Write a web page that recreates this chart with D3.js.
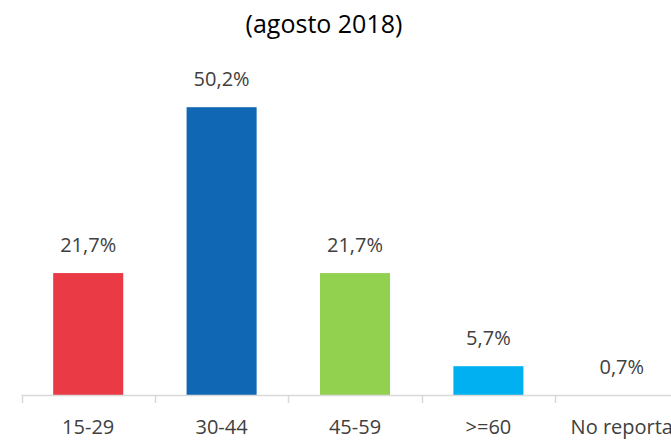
<!DOCTYPE html>
<html>
<head>
<meta charset="utf-8">
<script src="https://cdn.jsdelivr.net/npm/d3@7"></script>
<style>
  body { margin: 0; background: #fff; }
  svg { display: block; font-family: "Open Sans", "Noto Sans", sans-serif; }
</style>
</head>
<body>
<svg id="chart" width="671" height="440"></svg>
<script>
// ── Data ──
const categories = ["15-29", "30-44", "45-59", ">=60", "No reporta"];
const values = [21.7, 50.2, 21.7, 5.7, 0.7];
const labels = ["21,7%", "50,2%", "21,7%", "5,7%", "0,7%"];
const colors = ["#E93A45", "#1068B4", "#92D050", "#00B0F0", "#A5A5A5"];
const title = "(agosto 2018)";

const W = 671, H = 440;
const baseY = 395;

const svg = d3.select("#chart");

const x = d3
  .scaleBand()
  .domain(categories)
  .range([21.5, 21.5 + 133.4 * categories.length])
  .paddingInner(0.475)
  .paddingOuter(0.2375);

const y = d3.scaleLinear().domain([0.75, 55]).range([baseY, baseY - 5.82 * 54.25]);

// ── Title ──
svg.append("text")
  .attr("x", 324)
  .attr("y", 33)
  .attr("text-anchor", "middle")
  .attr("font-size", "25px")
  .attr("fill", "#000")
  .text(title);

// ── Bars ──
const g = svg.append("g");
categories.forEach((c, i) => {
  const top = Math.min(y(values[i]), baseY);
  g.append("rect")
    .attr("x", x(c))
    .attr("y", top)
    .attr("width", x.bandwidth())
    .attr("height", baseY - top)
    .attr("fill", colors[i]);

  g.append("text")
    .attr("x", x(c) + x.bandwidth() / 2)
    .attr("y", top - 21)
    .attr("text-anchor", "middle")
    .attr("font-size", "20px")
    .attr("fill", "#404040")
    .text(labels[i]);
});

// ── Axis ──
const step = x.step();
const start = x.range()[0];
const ax = svg.append("g");
ax.append("line")
  .attr("x1", start)
  .attr("x2", W + 10)
  .attr("y1", baseY + 0.5)
  .attr("y2", baseY + 0.5)
  .attr("stroke", "#D9D9D9")
  .attr("stroke-width", 1.5);

d3.range(categories.length + 1).forEach((k) => {
  const tx = Math.round(start + k * step) + 0.5;
  ax.append("line")
    .attr("x1", tx)
    .attr("x2", tx)
    .attr("y1", baseY)
    .attr("y2", baseY + 8)
    .attr("stroke", "#D9D9D9")
    .attr("stroke-width", 1.5);
});

categories.forEach((c) => {
  ax.append("text")
    .attr("x", x(c) + x.bandwidth() / 2)
    .attr("y", 434)
    .attr("text-anchor", "middle")
    .attr("font-size", "20px")
    .attr("fill", "#404040")
    .text(c);
});
</script>
</body>
</html>
